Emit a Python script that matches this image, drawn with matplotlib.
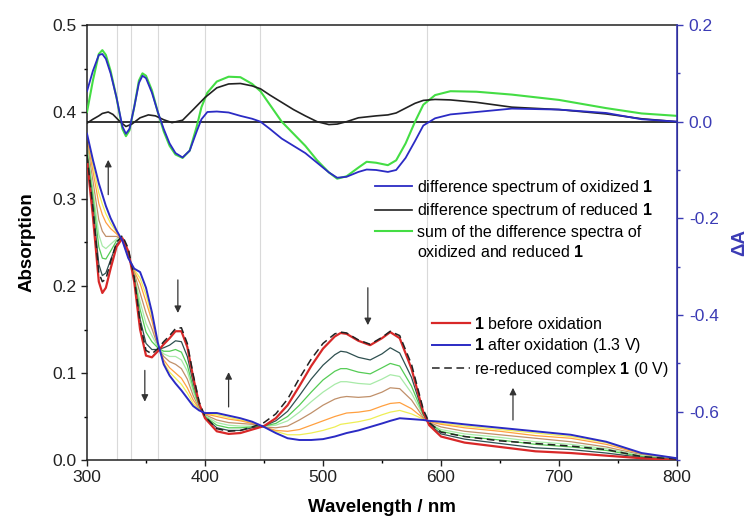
import matplotlib
matplotlib.use("Agg")
import matplotlib.pyplot as plt
from matplotlib.lines import Line2D
from matplotlib.ticker import MultipleLocator, FixedLocator, FixedFormatter

plt.rcParams['font.family'] = ['Liberation Sans', 'DejaVu Sans']
plt.rcParams['mathtext.fontset'] = 'custom'
plt.rcParams['mathtext.rm'] = 'Liberation Sans'
plt.rcParams['mathtext.bf'] = 'Liberation Sans:bold'
plt.rcParams['axes.unicode_minus'] = False

# ---------------- absorption spectra (left axis) ----------------
wl = [300, 305, 310, 313, 316, 320, 325, 330, 335, 340, 345, 350, 355, 360, 365, 370,
      375, 380, 385, 390, 395, 400, 410, 420, 430, 440, 450, 460, 470, 480, 490, 500,
      510, 515, 520, 530, 540, 550, 557, 565, 575, 585, 590, 600, 620, 650, 680, 710,
      740, 770, 800]

before_ox = [.345, .28, .205, .192, .198, .22, .245, .255, .24, .205, .15, .12, .118, .125, .133, .14,
             .148, .148, .13, .095, .065, .048, .033, .030, .031, .035, .039, .048, .063, .085, .108, .128,
             .142, .146, .145, .137, .132, .14, .147, .14, .105, .055, .04, .027, .02, .015, .01, .008,
             .005, .002, .0]
after_ox = [.375, .345, .318, .305, .292, .278, .264, .252, .232, .22, .216, .198, .17, .135, .11, .097,
            .088, .08, .071, .062, .057, .054, .054, .051, .048, .044, .038, .031, .025, .023, .023, .024,
            .027, .029, .031, .034, .038, .042, .045, .048, .047, .046, .045, .044, .041, .037, .033, .029,
            .021, .008, .002]
re_reduced = [.35, .29, .215, .205, .208, .228, .25, .258, .243, .21, .158, .126, .122, .128, .136, .143,
              .151, .152, .134, .098, .067, .05, .036, .033, .034, .038, .043, .053, .07, .094, .116, .134,
              .145, .147, .146, .138, .133, .141, .148, .143, .11, .058, .043, .032, .027, .022, .019, .016,
              .012, .004, .001]
step_dark = [.350, .292, .225, .212, .215, .230, .248, .254, .239, .208, .162, .134, .127, .127, .129, .132,
             .137, .136, .119, .089, .064, .049, .037, .034, .034, .037, .039, .045, .056, .074, .093, .109,
             .121, .125, .124, .118, .115, .122, .129, .123, .095, .053, .041, .030, .024, .019, .014, .012,
             .008, .003, .000]
step_green = [.356, .303, .245, .232, .231, .240, .252, .254, .237, .210, .173, .147, .136, .129, .125, .125,
              .127, .124, .109, .083, .062, .050, .040, .037, .037, .038, .039, .042, .050, .063, .078, .092,
              .102, .105, .105, .101, .099, .106, .111, .108, .085, .052, .042, .033, .027, .023, .018, .015,
              .011, .004, .001]
step_lightgreen = [.359, .311, .259, .246, .243, .248, .254, .254, .236, .212, .182, .157, .143, .130, .122, .119,
                   .119, .115, .102, .079, .061, .051, .043, .040, .039, .039, .039, .040, .045, .055, .067, .078,
                   .087, .090, .090, .088, .087, .093, .098, .096, .077, .051, .042, .035, .030, .026, .021, .018,
                   .013, .005, .001]
step_tan = [.364, .321, .276, .263, .257, .257, .257, .253, .235, .215, .192, .169, .151, .131, .119, .113,
            .110, .105, .093, .074, .060, .052, .046, .043, .042, .041, .038, .037, .039, .046, .054, .063,
            .070, .072, .073, .072, .073, .078, .083, .082, .069, .049, .043, .038, .033, .029, .025, .021,
            .015, .006, .001]
step_orange = [.369, .332, .295, .282, .273, .266, .260, .253, .234, .217, .203, .182, .160, .133, .115, .106,
               .100, .094, .083, .069, .059, .053, .050, .047, .045, .042, .038, .034, .033, .035, .040, .045,
               .050, .052, .054, .055, .057, .062, .065, .066, .059, .048, .044, .041, .037, .033, .028, .025,
               .018, .007, .002]
step_yellow = [.372, .339, .307, .294, .283, .272, .262, .252, .233, .219, .209, .190, .165, .134, .112, .101,
               .094, .087, .077, .065, .058, .053, .052, .049, .046, .043, .038, .033, .029, .029, .031, .034,
               .038, .041, .042, .044, .047, .052, .055, .057, .053, .047, .045, .042, .039, .035, .031, .027,
               .020, .007, .002]

# ---------------- difference spectra (right axis) ----------------
wl_ox = [300, 305, 310, 313, 316, 320, 325, 330, 333, 336, 340, 344, 347, 350, 355, 360, 365, 370, 375,
         381, 387, 393, 397, 402, 410, 420, 430, 440, 447, 455, 465, 475, 485, 495, 505, 512, 520, 530,
         537, 545, 555, 562, 570, 578, 585, 595, 608, 630, 660, 700, 740, 770, 800]
diff_ox = [.063, .105, .138, .14, .13, .1, .05, -.01, -.025, -.015, .03, .08, .095, .09, .06, .02, -.015,
           -.045, -.065, -.074, -.06, -.02, .005, .02, .021, .019, .012, .006, .0, -.015, -.035, -.05,
           -.065, -.085, -.105, -.116, -.114, -.104, -.099, -.1, -.104, -.1, -.075, -.04, -.008, .007,
           .015, .02, .027, .025, .018, .005, .0]
diff_sum = [.02, .085, .14, .148, .138, .105, .05, -.015, -.03, -.018, .03, .085, .1, .095, .065, .02, -.02,
            -.05, -.068, -.075, -.06, -.01, .03, .06, .083, .093, .092, .078, .063, .035, .0, -.025, -.05,
            -.08, -.105, -.118, -.113, -.095, -.083, -.085, -.09, -.08, -.045, .0, .035, .055, .063, .062,
            .056, .045, .028, .017, .012]
wl_red = [300, 305, 310, 313, 318, 322, 328, 333, 338, 345, 352, 358, 365, 372, 381, 390, 400, 410, 420,
          430, 440, 447, 455, 465, 475, 485, 495, 505, 512, 520, 530, 545, 555, 562, 570, 578, 585, 595,
          608, 630, 660, 700, 740, 770, 800]
diff_red = [-.003, .005, .012, .017, .02, .015, .0, -.01, -.005, .008, .014, .012, .004, -.002, .003, .025,
            .05, .07, .078, .079, .074, .068, .055, .04, .025, .012, .0, -.006, -.005, .0, .008, .012,
            .014, .018, .028, .038, .044, .046, .045, .04, .03, .025, .016, .006, .0]

gridlines_x = [325, 337, 360, 400, 447, 588]

# arrows: (wavelength, start absorbance, end absorbance)
arrow_x = [318, 377, 349, 420, 538, 661]
arrow_from = [0.305, 0.207, 0.103, 0.061, 0.198, 0.046]
arrow_to = [0.345, 0.169, 0.067, 0.101, 0.155, 0.083]

BLUE = '#2b2bc4'
RED = '#d82828'
AXBLUE = '#3b3bb5'

fig = plt.figure(figsize=(7.52, 5.24), dpi=100)
ax = fig.add_axes([87 / 752, 1 - 460 / 524, 590 / 752, 435 / 524])
ax2 = ax.twinx()

for gx in gridlines_x:
    ax.axvline(gx, color='#d9d9d9', lw=0.8, zorder=0)

for ys, c in [(step_yellow, '#eeee55'), (step_orange, '#ffa040'), (step_tan, '#c0906a'),
              (step_lightgreen, '#a8eaa8'), (step_green, '#55cc55'), (step_dark, '#2f5050')]:
    ax.plot(wl, ys, color=c, lw=0.9, zorder=2)

l_red, = ax.plot(wl, before_ox, color=RED, lw=1.6, zorder=3)
l_dash, = ax.plot(wl, re_reduced, color='#222222', lw=1.1, ls=(0, (5, 3)), zorder=4)
l_blue, = ax.plot(wl, after_ox, color=BLUE, lw=1.4, zorder=4)

for x, y0, y1 in zip(arrow_x, arrow_from, arrow_to):
    ax.annotate('', xy=(x, y1), xytext=(x, y0),
                arrowprops=dict(arrowstyle='-|>', color='#333333', lw=0.9, mutation_scale=10,
                                shrinkA=0, shrinkB=0))

ax2.axhline(0, color='#111111', lw=1.2, zorder=1)
d_sum, = ax2.plot(wl_ox, diff_sum, color='#44dd44', lw=1.5, zorder=2)
d_red, = ax2.plot(wl_red, diff_red, color='#222222', lw=1.2, zorder=3)
d_ox, = ax2.plot(wl_ox, diff_ox, color=BLUE, lw=1.3, zorder=4)

ax.set_xlim(300, 800)
ax.set_ylim(0, 0.5)
ax2.set_ylim(-0.7, 0.2)

ax.xaxis.set_major_locator(MultipleLocator(100))
ax.xaxis.set_minor_locator(MultipleLocator(50))
ax.yaxis.set_major_locator(MultipleLocator(0.1))
ax.yaxis.set_minor_locator(MultipleLocator(0.05))
ax.xaxis.set_major_formatter(plt.FuncFormatter(lambda v, p: f"{v:.0f}"))
ax.yaxis.set_major_formatter(plt.FuncFormatter(lambda v, p: f"{v:.1f}"))

rt = [0.2, 0.0, -0.2, -0.4, -0.6]
ax2.yaxis.set_major_locator(FixedLocator(rt))
ax2.yaxis.set_major_formatter(FixedFormatter([f"{v:.1f}" for v in rt]))
ax2.yaxis.set_minor_locator(MultipleLocator(0.1))

ax.tick_params(which='major', direction='out', length=4.5, width=1, labelsize=12.5,
               colors='#222222', pad=3)
ax.tick_params(which='minor', direction='out', length=2.5, width=1)
ax.tick_params(axis='x', top=False, which='both')
ax2.tick_params(which='major', direction='out', length=4.5, width=1, labelsize=12.5,
                colors=AXBLUE, pad=4)
ax2.tick_params(which='minor', direction='out', length=2.5, width=1, colors=AXBLUE)

for s in ['left', 'bottom', 'top']:
    ax.spines[s].set_color('#222222')
    ax.spines[s].set_linewidth(1.1)
ax2.spines['right'].set_color(AXBLUE)
ax2.spines['right'].set_linewidth(1.2)
for s in ['left', 'bottom', 'top']:
    ax2.spines[s].set_visible(False)

ax.set_xlabel('Wavelength / nm', fontsize=13.5, fontweight='bold', labelpad=10)
ax.set_ylabel('Absorption', fontsize=13.5, fontweight='bold', labelpad=12)
ax2.set_ylabel('ΔA', fontsize=13.5, fontweight='bold', color=AXBLUE, labelpad=9)

blank = Line2D([], [], color='none')
leg1 = ax2.legend([d_ox, d_red, d_sum, blank],
                  [r'difference spectrum of oxidized $\mathbf{1}$',
                   r'difference spectrum of reduced $\mathbf{1}$',
                   'sum of the difference spectra of',
                   r'oxidized and reduced $\mathbf{1}$'],
                  loc='upper left', bbox_to_anchor=(375 / 752, 1 - 178 / 524),
                  bbox_transform=fig.transFigure, frameon=False, fontsize=11.5,
                  handlelength=2.3, handletextpad=0.3, labelspacing=0.27,
                  borderpad=0, borderaxespad=0)
leg2 = ax2.legend([l_red, l_blue, l_dash],
                  [r'$\mathbf{1}$ before oxidation',
                   r'$\mathbf{1}$ after oxidation (1.3 V)',
                   r're-reduced complex $\mathbf{1}$ (0 V)'],
                  loc='upper left', bbox_to_anchor=(432 / 752, 1 - 316 / 524),
                  bbox_transform=fig.transFigure, frameon=False, fontsize=11.5,
                  handlelength=2.35, handletextpad=0.3, labelspacing=0.27,
                  borderpad=0, borderaxespad=0)
ax2.add_artist(leg1)

fig.savefig('out.png', dpi=100)
